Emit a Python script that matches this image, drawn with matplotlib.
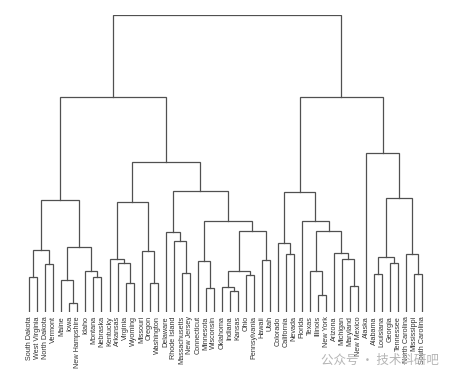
import matplotlib
matplotlib.use("Agg")
import matplotlib.pyplot as plt

# leaf order, left to right
labels = [
    "South Dakota", "West Virginia", "North Dakota", "Vermont", "Maine", "Iowa",
    "New Hampshire", "Idaho", "Montana", "Nebraska", "Kentucky", "Arkansas",
    "Virginia", "Wyoming", "Missouri", "Oregon", "Washington", "Delaware",
    "Rhode Island", "Massachusetts", "New Jersey", "Connecticut", "Minnesota",
    "Wisconsin", "Oklahoma", "Indiana", "Kansas", "Ohio", "Pennsylvania", "Hawaii",
    "Utah", "Colorado", "California", "Nevada", "Florida", "Texas", "Illinois",
    "New York", "Arizona", "Michigan", "Maryland", "New Mexico", "Alaska",
    "Alabama", "Louisiana", "Georgia", "Tennessee", "North Carolina",
    "Mississippi", "South Carolina",
]

# merges: a name is a leaf, an int is an earlier merge (row index)
merges = [
    ("South Dakota", "West Virginia"),   # 0
    ("North Dakota", "Vermont"),         # 1
    (0, 1),                              # 2
    ("Iowa", "New Hampshire"),           # 3
    ("Maine", 3),                        # 4
    ("Montana", "Nebraska"),             # 5
    ("Idaho", 5),                        # 6
    (4, 6),                              # 7
    (2, 7),                              # 8
    ("Virginia", "Wyoming"),             # 9
    ("Arkansas", 9),                     # 10
    ("Kentucky", 10),                    # 11
    ("Oregon", "Washington"),            # 12
    ("Missouri", 12),                    # 13
    (11, 13),                            # 14
    ("Massachusetts", "New Jersey"),     # 15
    ("Rhode Island", 15),                # 16
    ("Delaware", 16),                    # 17
    ("Minnesota", "Wisconsin"),          # 18
    ("Connecticut", 18),                 # 19
    ("Indiana", "Kansas"),               # 20
    ("Oklahoma", 20),                    # 21
    ("Ohio", "Pennsylvania"),            # 22
    (21, 22),                            # 23
    ("Hawaii", "Utah"),                  # 24
    (23, 24),                            # 25
    (19, 25),                            # 26
    (17, 26),                            # 27
    (14, 27),                            # 28
    (8, 28),                             # 29
    ("California", "Nevada"),            # 30
    ("Colorado", 30),                    # 31
    ("Illinois", "New York"),            # 32
    ("Texas", 32),                       # 33
    ("Maryland", "New Mexico"),          # 34
    ("Michigan", 34),                    # 35
    ("Arizona", 35),                     # 36
    (33, 36),                            # 37
    ("Florida", 37),                     # 38
    (31, 38),                            # 39
    ("Alabama", "Louisiana"),            # 40
    ("Georgia", "Tennessee"),            # 41
    (40, 41),                            # 42
    ("Mississippi", "South Carolina"),   # 43
    ("North Carolina", 43),              # 44
    (42, 44),                            # 45
    ("Alaska", 45),                      # 46
    (39, 46),                            # 47
    (29, 47),                            # 48
]

heights = [
    0.71, 0.98, 1.27, 0.19, 0.66, 0.72, 0.83, 1.34, 2.30,
    0.59, 1.00, 1.09, 0.59, 1.25, 2.26,
    0.79, 1.46, 1.63, 0.49, 1.04, 0.42, 0.52, 0.76, 0.85, 1.07, 1.65, 1.86,
    2.47, 3.08, 4.40,
    1.19, 1.41, 0.35, 0.84, 0.54, 1.08, 1.20, 1.65, 1.87, 2.45,
    0.77, 1.01, 1.13, 0.78, 1.18, 2.33, 3.25, 4.41, 6.08,
]

fig = plt.figure(figsize=(4.55, 3.79), dpi=100)
ax = fig.add_axes([0.0556, 0.1768, 0.8813, 0.7828])

line_col = "#505050"
node_x = []
node_h = []


def child_pos(c):
    if isinstance(c, str):
        return labels.index(c), 0.0
    return node_x[c], node_h[c]


for (a, b), h in zip(merges, heights):
    xa, ha = child_pos(a)
    xb, hb = child_pos(b)
    ax.plot([xa, xa, xb, xb], [ha, h, h, hb], color=line_col, lw=0.9,
            solid_joinstyle="miter")
    node_x.append((xa + xb) / 2)
    node_h.append(h)

ax.set_xlim(-0.5, len(labels) - 0.5)
ax.set_ylim(0, 6.08)
ax.set_xticks(range(len(labels)))
ax.set_xticklabels(labels, rotation=90, fontsize=5.2, family="Liberation Sans",
                   color="#333333")
ax.tick_params(axis="x", length=0, pad=3)
ax.set_yticks([])
for s in ax.spines.values():
    s.set_visible(False)

# watermark
fig.text(0.705, 0.05, "公众号 · 技术科研吧", fontsize=9, color="#b5b5b5",
         family=["Noto Sans CJK SC", "DejaVu Sans"], va="center", ha="left")

fig.savefig("out.png", dpi=100)
